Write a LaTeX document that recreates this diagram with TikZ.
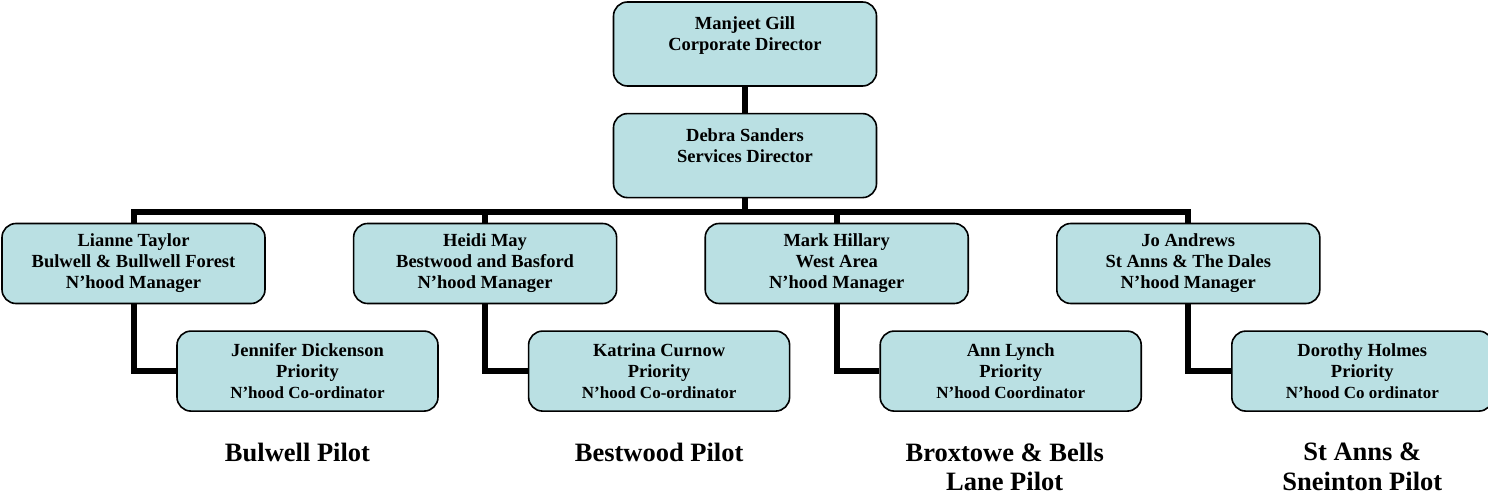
\documentclass[tikz,border=0pt]{standalone}
\usepackage{fontspec}
\setmainfont{Liberation Serif}
\usetikzlibrary{positioning}
\definecolor{boxfill}{RGB}{186,224,227}
\tikzset{box/.style={draw,rounded corners=14pt,line width=1.6pt,fill=boxfill,
    minimum width=263pt,minimum height=80pt,inner sep=0pt,align=center,
    font=\bfseries\fontsize{18.5}{21}\selectfont}}
\tikzset{sub/.style={box,minimum width=261pt,font=\bfseries\fontsize{18.5}{21}\selectfont}}
\tikzset{link/.style={line width=6pt}}
\tikzset{pilot/.style={inner sep=0pt,align=center,font=\bfseries\fontsize{26.5}{29.5}\selectfont}}
\newcommand{\rolesize}{\fontsize{17}{21}\selectfont}

\begin{document}
\begin{tikzpicture}[x=1pt,y=1pt]
        \useasboundingbox (0,0) rectangle (1488,496);
        \node[box,minimum height=84pt] (cd) at (745,452) {Manjeet Gill\\Corporate Director\\~};
        \node[box,minimum height=84pt] (sd) [below=26pt of cd] {Debra Sanders\\Services Director\\~};
        \node[box] (m1) at (133.5,232.5) {Lianne Taylor\\Bulwell \& Bullwell Forest\\N’hood Manager};
        \node[box] (m2) [right=87pt of m1] {Heidi May\\Bestwood and Basford\\N’hood Manager};
        \node[box] (m3) [right=87pt of m2] {Mark Hillary\\West Area\\N’hood Manager};
        \node[box] (m4) [right=87pt of m3] {Jo Andrews\\St Anns \& The Dales\\N’hood Manager};
        \node[sub] (c1) [below=26pt of m1,xshift=174pt] {Jennifer Dickenson\\Priority\\{\rolesize N’hood Co-ordinator}};
        \node[sub] (c2) [below=26pt of m2,xshift=174pt] {Katrina Curnow\\Priority\\{\rolesize N’hood Co-ordinator}};
        \node[sub] (c3) [below=26pt of m3,xshift=174pt] {Ann Lynch\\Priority\\{\rolesize N’hood Coordinator}};
        \node[sub] (c4) [below=26pt of m4,xshift=174pt] {Dorothy Holmes\\Priority\\{\rolesize N’hood Co ordinator}};
        \node[pilot] (p1) [below=31pt of c1,xshift=-10pt] {Bulwell Pilot};
        \node[pilot] (p2) [below=31pt of c2] {Bestwood Pilot};
        \node[pilot] (p3) [below=31pt of c3,xshift=-6pt] {Broxtowe \& Bells\\Lane Pilot};
        \node[pilot] (p4) [below=31pt of c4] {St Anns \&\\Sneinton Pilot};
        \coordinate (bus) at ([yshift=-14pt]sd.south);
        \draw[link] (cd) -- (sd);
        \draw[link] (sd) -- (bus);
        \draw[link] (m1.north) |- (bus) -| (m4.north);
        \draw[link] (m2.north) -- (m2.north |- bus);
        \draw[link] (m3.north) -- (m3.north |- bus);
        \draw[link] (m1.south) |- (c1.west);
        \draw[link] (m2.south) |- (c2.west);
        \draw[link] (m3.south) |- (c3.west);
        \draw[link] (m4.south) |- (c4.west);
\end{tikzpicture}
\end{document}
